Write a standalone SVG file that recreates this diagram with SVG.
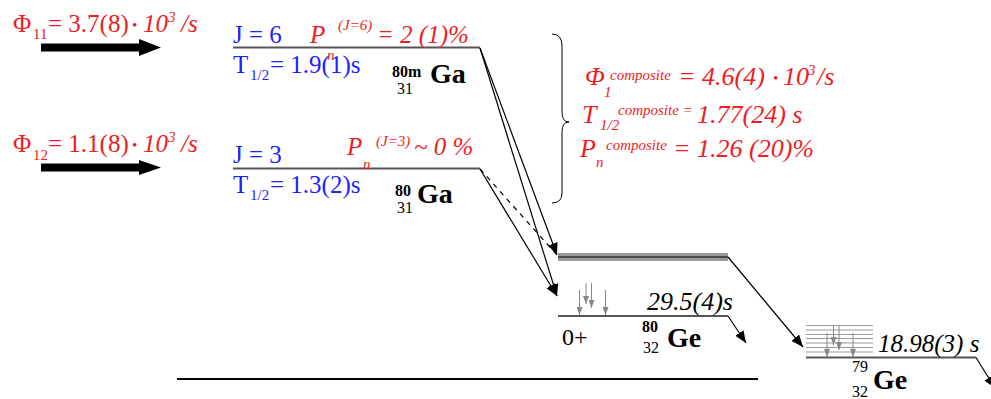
<svg xmlns="http://www.w3.org/2000/svg" width="991" height="399" viewBox="0 0 991 399" font-family="'Liberation Serif','Times New Roman','DejaVu Serif',serif">
<style>
text{font-family:"Liberation Serif","Times New Roman","DejaVu Serif",serif;}
.r{fill:#ee1c24;}
.b{fill:#1e1eff;}
.k{fill:#000;}
.it{font-style:italic;}
.bd{font-weight:bold;}
.big{font-size:25px;}
.c26{font-size:26px;}
.sm{font-size:15px;}
.nuc{font-size:16px;}
.el{font-size:28px;font-weight:bold;}
.lvl{stroke:#555;stroke-width:2;fill:none;}
.thin{stroke:#999;stroke-width:1;fill:none;}
.tr{stroke:#000;stroke-width:1.2;fill:none;}
.ga{stroke:#888;stroke-width:1;fill:none;}
</style>
<defs>
<marker id="ah" viewBox="0 0 12 10" refX="12" refY="5" markerWidth="12" markerHeight="10" orient="auto" markerUnits="userSpaceOnUse"><path d="M0,0 L12,5 L0,10 z" fill="#000"/></marker>
<marker id="gh" viewBox="0 0 8 6" refX="8" refY="3" markerWidth="8" markerHeight="6" orient="auto" markerUnits="userSpaceOnUse"><path d="M0,0 L8,3 L0,6 z" fill="#888"/></marker>
</defs>

<g id="beam1">
<text class="r big" x="13" y="32">Φ</text>
<text class="r sm" x="33" y="39">11</text>
<text class="r big" x="48" y="32">= 3.7(8)</text>
<text class="r" x="132" y="30" font-size="15">•</text>
<text class="r big it" x="143" y="32">10</text>
<text class="r sm it" x="168" y="22">3</text>
<text class="r big it" x="181" y="32">/s</text>
<polygon points="41,43.5 139,43.5 139,39 161,47.5 139,56 139,51.5 41,51.5" fill="#000"/>
</g>

<g id="beam2">
<text class="r big" x="13" y="152">Φ</text>
<text class="r sm" x="33" y="160">12</text>
<text class="r big" x="48" y="152">= 1.1(8)</text>
<text class="r" x="132" y="150" font-size="15">•</text>
<text class="r big it" x="143" y="152">10</text>
<text class="r sm it" x="168" y="142">3</text>
<text class="r big it" x="181" y="152">/s</text>
<polygon points="41,163.5 139,163.5 139,160 161,167.5 139,175 139,171.5 41,171.5" fill="#000"/>
</g>

<g id="ga80m">
<line class="lvl" x1="233" y1="47.5" x2="480" y2="47.5"/>
<text class="b big" x="233" y="43">J = 6</text>
<text class="b big" x="233" y="73">T</text>
<text class="b sm" x="250" y="80">1/2</text>
<text class="b big" x="270" y="73">= 1.9(1)s</text>
<text class="r big it" x="310" y="43">P</text>
<text class="r sm it" x="327" y="60">n</text>
<text class="r sm it" x="338" y="30">(J=6)</text>
<text class="r big it" x="377" y="43">= 2 (1)%</text>
<text class="k nuc bd" x="392" y="77">80m</text>
<text class="k nuc" x="397" y="94">31</text>
<text class="k el" x="430" y="83">Ga</text>
</g>

<g id="ga80">
<line class="lvl" x1="233" y1="168.5" x2="480" y2="168.5"/>
<text class="b big" x="233" y="163">J = 3</text>
<text class="b big" x="233" y="193">T</text>
<text class="b sm" x="250" y="200">1/2</text>
<text class="b big" x="270" y="193">= 1.3(2)s</text>
<text class="r big it" x="347" y="155">P</text>
<text class="r sm it" x="363" y="169">n</text>
<text class="r sm it" x="376" y="146">(J=3)</text>
<text class="r big it" x="414" y="155">~ 0 %</text>
<text class="k nuc bd" x="395" y="196">80</text>
<text class="k nuc" x="397" y="213">31</text>
<text class="k el" x="417" y="203">Ga</text>
</g>

<g id="composite">
<path d="M552,34 Q562,34 562,46 L562,112 Q562,122 569,122 Q562,122 562,132 L562,193 Q562,203 552,203" fill="none" stroke="#000" stroke-width="1"/>
<text class="r c26 it" x="585" y="85">Φ</text>
<text class="r sm it" x="604" y="97">1</text>
<text class="r sm it" x="610" y="80">composite</text>
<text class="r c26 it" x="678" y="85">= 4.6(4)</text>
<text class="r" x="773" y="83" font-size="15">•</text>
<text class="r c26 it" x="783" y="85">10</text>
<text class="r sm it" x="808" y="75">3</text>
<text class="r c26 it" x="817" y="85">/s</text>
<text class="r c26 it" x="582" y="123">T</text>
<text class="r sm it" x="600" y="130">1/2</text>
<text class="r sm it" x="618" y="115">composite =</text>
<text class="r c26 it" x="697" y="123">1.77(24) s</text>
<text class="r c26 it" x="580" y="157">P</text>
<text class="r sm it" x="596" y="167">n</text>
<text class="r sm it" x="606" y="150">composite</text>
<text class="r c26 it" x="673" y="157">= 1.26 (20)%</text>
</g>

<g id="band">
<rect x="558" y="253" width="170" height="8" fill="#999"/>
<line x1="558" y1="257" x2="728" y2="257" stroke="#333" stroke-width="1.5"/>
</g>

<g id="ge80">
<line class="lvl" x1="558" y1="316" x2="728" y2="316"/>
<line class="ga" x1="579.5" y1="290" x2="579.5" y2="315" marker-end="url(#gh)"/>
<line class="ga" x1="586" y1="283" x2="586" y2="304" marker-end="url(#gh)"/>
<line class="ga" x1="591.5" y1="283" x2="591.5" y2="308" marker-end="url(#gh)"/>
<line class="ga" x1="605.5" y1="290" x2="605.5" y2="315" marker-end="url(#gh)"/>
<text class="k c26 it" x="647" y="310">29.5(4)s</text>
<text class="k" x="562" y="345" font-size="24">0+</text>
<text class="k nuc bd" x="642" y="332">80</text>
<text class="k nuc" x="643" y="353">32</text>
<text class="k el" x="667" y="347">Ge</text>
</g>

<g id="ge79">
<line class="thin" x1="806" y1="325.5" x2="873" y2="325.5"/>
<line class="thin" x1="806" y1="330" x2="873" y2="330"/>
<line class="thin" x1="806" y1="334.5" x2="873" y2="334.5"/>
<line class="thin" x1="806" y1="338.5" x2="873" y2="338.5"/>
<line class="thin" x1="806" y1="343" x2="873" y2="343"/>
<line class="thin" x1="806" y1="347.5" x2="873" y2="347.5"/>
<line class="thin" x1="806" y1="352" x2="873" y2="352"/>
<line class="lvl" x1="806" y1="357.5" x2="976" y2="357.5"/>
<line class="ga" x1="827" y1="333" x2="827" y2="357" marker-end="url(#gh)"/>
<line class="ga" x1="833.5" y1="325" x2="833.5" y2="345" marker-end="url(#gh)"/>
<line class="ga" x1="839" y1="325" x2="839" y2="350" marker-end="url(#gh)"/>
<line class="ga" x1="853" y1="333" x2="853" y2="357" marker-end="url(#gh)"/>
<text class="k big it" x="878" y="352">18.98(3) s</text>
<text class="k nuc" x="852" y="372">79</text>
<text class="k nuc" x="852" y="397">32</text>
<text class="k el" x="873" y="389">Ge</text>
</g>

<g id="baseline">
<line x1="177" y1="379" x2="758" y2="379" stroke="#000" stroke-width="2"/>
</g>

<g id="connectors">
<line class="tr" x1="480" y1="48" x2="557" y2="255" marker-end="url(#ah)"/>
<line class="tr" x1="480" y1="48" x2="557" y2="296" marker-end="url(#ah)"/>
<line class="tr" x1="480" y1="169" x2="557" y2="296" marker-end="url(#ah)"/>
<line class="tr" x1="480" y1="169" x2="557" y2="255" stroke-dasharray="5,5"/>
<line class="tr" x1="728" y1="257" x2="803" y2="347" marker-end="url(#ah)"/>
<line class="tr" x1="728" y1="316" x2="746" y2="343" marker-end="url(#ah)"/>
<line class="tr" x1="976" y1="357.5" x2="995" y2="388" marker-end="url(#ah)"/>
</g>
</svg>
